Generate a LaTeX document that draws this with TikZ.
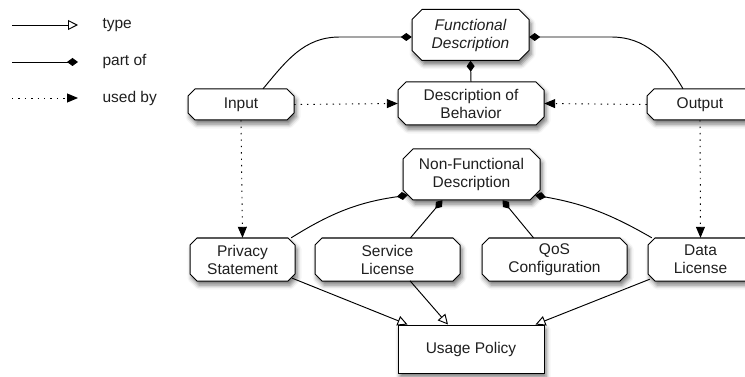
\documentclass[tikz,border=0pt]{standalone}
\usepackage{fontspec}
\setmainfont{Liberation Sans}
\usetikzlibrary{arrows.meta,calc,shadows.blur}
\newcommand\octbox[6]{%
  \begin{scope}[shift={(#2)}]
    \path[octshape] ({-#3/2+#5},{-#4/2}) -- ({#3/2-#5},{-#4/2}) -- ({#3/2},{-#4/2+#5})
      -- ({#3/2},{#4/2-#5}) -- ({#3/2-#5},{#4/2}) -- ({-#3/2+#5},{#4/2})
      -- ({-#3/2},{#4/2-#5}) -- ({-#3/2},{-#4/2+#5}) -- cycle;
  \end{scope}
  \node[lbl, rectangle, minimum width=#3pt, minimum height=#4pt, inner sep=0pt, align=center] (#1) at (#2) {#6};
}
\begin{document}
\begin{tikzpicture}[x=1pt,y=-1pt,
  lbl/.style={font=\fontsize{15.5}{18}\selectfont, text=black!88},
  octshape/.style={draw, line width=1pt, fill=white,
    blur shadow={shadow xshift=2pt, shadow yshift=-4pt, shadow blur radius=4.5pt, shadow opacity=55}},
  plainbox/.style={lbl, rectangle, draw, line width=1pt, fill=white, inner sep=0pt, align=center,
    blur shadow={shadow xshift=2pt, shadow yshift=-4pt, shadow blur radius=4.5pt, shadow opacity=55}},
  conn/.style={line width=0.95pt, black},
  typeof/.style={conn, -{Triangle[open, length=10pt, width=10pt, line width=0.95pt]}},
  partof/.style={conn, {Diamond[length=11pt, width=8pt]}-},
  partofend/.style={conn, -{Diamond[length=11pt, width=8pt]}},
  usedby/.style={conn, dash pattern=on 1.4pt off 5pt, -{Triangle[length=11pt, width=9pt]}},
]
\useasboundingbox (0,0) rectangle (745,377);

% legend
\coordinate (l1a) at (12,25);  \coordinate (l1b) at (78,25);
\coordinate (l2a) at (12,62);  \coordinate (l2b) at (78,62);
\coordinate (l3a) at (12,98);  \coordinate (l3b) at (78,98);
\draw[typeof] (l1a) -- (l1b);
\draw[partofend] (l2a) -- (l2b);
\draw[usedby] (l3a) -- (l3b);
\node[lbl, anchor=west] (t1) at (99,25) {type};
\node[lbl, anchor=west] (t2) at (99,62) {part of};
\node[lbl, anchor=west] (t3) at (99,98) {used by};

% nodes
\octbox{FD}{470.5,35}{117}{51}{10}{\itshape Functional\\\itshape Description}
\octbox{DoB}{471,103.5}{146}{43}{8}{Description of\\Behavior}
\octbox{In}{241,104.5}{106}{31}{7}{Input}
\octbox{Out}{700,104.5}{106}{31}{7}{Output}
\octbox{NFD}{471.5,174.5}{137}{51}{10}{Non-Functional\\Description}
\octbox{PS}{242.5,259.5}{105}{43}{7}{Privacy\\Statement}
\octbox{SL}{387.5,259.5}{145}{43}{7}{Service\\License}
\octbox{QoS}{554.5,259.5}{145}{43}{7}{QoS\\Configuration}
\octbox{DL}{700.5,259.5}{105}{43}{7}{Data\\License}
\node[plainbox, minimum width=146pt, minimum height=48pt] (UP) at (471,349) {Usage Policy};

% part of
\draw[partof] ($(FD.west)+(0,2)$) -- ++(-72,0) to[out=180,in=50] ($(In.north)+(22,0)$);
\draw[partof] ($(FD.east)+(0,2)$) -- ++(82,0) to[out=0,in=120] ($(Out.north)+(-17,0)$);
\draw[partof] (FD.south) -- (DoB.north);
\draw[partof] ($(NFD.south west)+(5,-5)$) to[bend right=12] ($(PS.north east)+(-4,0)$);
\draw[partof] ($(NFD.south)+(-29,0)$) -- ($(SL.north)+(23,0)$);
\draw[partof] ($(NFD.south)+(31,0)$) -- ($(QoS.north)+(-21,0)$);
\draw[partof] ($(NFD.south east)+(-5,-5)$) to[bend left=10] ($(DL.north west)+(4,0)$);

% used by
\draw[usedby] (In.east) -- (DoB.west);
\draw[usedby] (Out.west) -- (DoB.east);
\draw[usedby] (In.south) -- (PS.north);
\draw[usedby] (Out.south) -- (DL.north);

% type
\draw[typeof] ($(PS.south east)+(-3,-3)$) -- ($(UP.north west)+(10,0)$);
\draw[typeof] ($(SL.north)+(22.5,43)$) -- ($(UP.north)+(-23,0)$);
\draw[typeof] ($(DL.south west)+(2,-2)$) -- ($(UP.north east)+(-9,0)$);
\end{tikzpicture}
\end{document}
